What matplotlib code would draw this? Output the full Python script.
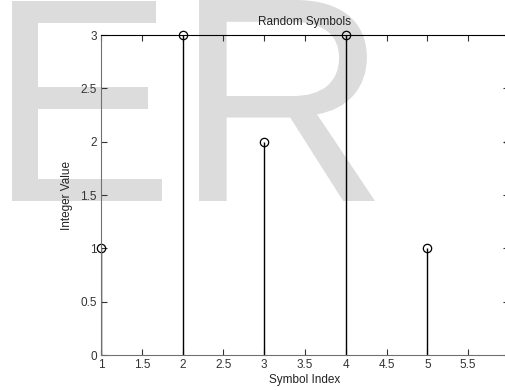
import matplotlib
matplotlib.use("Agg")
import matplotlib.pyplot as plt
from matplotlib.textpath import TextPath
from matplotlib.patches import PathPatch
from matplotlib.font_manager import FontProperties
from matplotlib.transforms import Affine2D

# ── Datos ────────────────────────────────────────────────────
indices = [1, 2, 3, 4, 5, 6]
valores = [1, 3, 2, 3, 1, 2]
xticks = [1, 1.5, 2, 2.5, 3, 3.5, 4, 4.5, 5, 5.5, 6]
yticks = [0, 0.5, 1, 1.5, 2, 2.5, 3]

plt.rcParams["font.family"] = ["Liberation Sans", "DejaVu Sans"]

W, H = 506, 390
fig = plt.figure(figsize=(W / 100, H / 100), dpi=100)
fig.patch.set_facecolor("white")

# ── Marca de agua "ER" (cada letra en su caja, píxeles desde arriba) ──
fp = FontProperties(family="Liberation Sans")
cajas = [("E", 12, 162, 1, 201), ("R", 199, 375, 0, 201)]
for letra, x0, x1, ytop, ybot in cajas:
    tp = TextPath((0, 0), letra, size=1, prop=fp)
    ext = tp.get_extents()
    sx = (x1 - x0) / W / ext.width
    sy = (ybot - ytop) / H / ext.height
    tr = (Affine2D().translate(-ext.x0, -ext.y0).scale(sx, sy)
          .translate(x0 / W, 1 - ybot / H) + fig.transFigure)
    fig.add_artist(PathPatch(tp, facecolor="#dcdcdc", edgecolor="none",
                             transform=tr, zorder=-1))

# ── Ejes ─────────────────────────────────────────────────────
ax = fig.add_axes([101 / W, 35 / H, 408 / W, 320 / H])
ax.set_facecolor("none")
ax.set_zorder(1)

markerline, stemlines, baseline = ax.stem(indices, valores, basefmt=" ")
plt.setp(stemlines, color="black", linewidth=1)
plt.setp(markerline, marker="o", markersize=6, markerfacecolor="none",
         markeredgecolor="black", markeredgewidth=0.9)
markerline.set_clip_on(False)

ax.set_xlim(1, 6)
ax.set_ylim(0, 3)
ax.set_xticks(xticks)
ax.set_xticklabels([f"{t:g}" for t in xticks])
ax.set_yticks(yticks)
ax.set_yticklabels([f"{t:g}" for t in yticks])

ax.tick_params(direction="in", length=4, width=0.8, top=True, right=True,
               labelsize=8.5, colors="#333333", pad=3)
for s in ["left", "bottom"]:
    ax.spines[s].set_color("#707070")
ax.spines["top"].set_color("black")
ax.spines["right"].set_color("black")

ax.set_title("Random Symbols", fontsize=8.5, pad=7, color="#222222")
ax.set_xlabel("Symbol Index", fontsize=8.5, labelpad=2, color="#222222")
ax.set_ylabel("Integer Value", fontsize=8.5, labelpad=5, color="#222222")

plt.savefig("out.png", dpi=100)
